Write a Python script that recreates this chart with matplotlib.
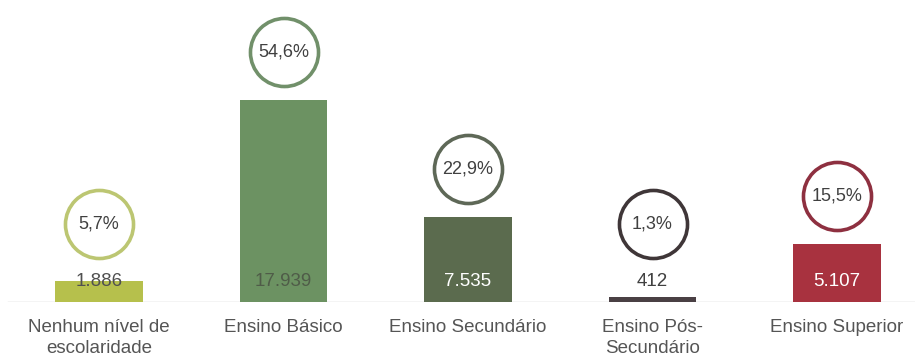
import matplotlib.pyplot as plt
from matplotlib.transforms import ScaledTranslation

plt.rcParams['font.family'] = ['Liberation Sans', 'DejaVu Sans']

categories = ['Nenhum nível de\nescolaridade', 'Ensino Básico', 'Ensino Secundário',
              'Ensino Pós-\nSecundário', 'Ensino Superior']
values = [1886, 17939, 7535, 412, 5107]
bar_colors = ['#b6c04c', '#6c9262', '#5b6b4e', '#4a4044', '#a8323f']
ring_colors = ['#bcc672', '#71906a', '#5e6857', '#3f3638', '#8e3040']
value_colors = ['#505050', '#4f5c48', '#ffffff', '#404040', '#ffffff']

total = sum(values)
shares = [v / total * 100 for v in values]

fig = plt.figure(figsize=(9.15, 3.58), dpi=100)
ax = fig.add_axes([0, 56 / 358, 1, 302 / 358])
ymax = 17939 * 302 / 202
ax.set_ylim(0, ymax)
ax.set_xlim(-99 / 184.5, (915 - 99) / 184.5)
ax.axis('off')

x = range(len(values))
ax.bar(x, values, width=0.475, color=bar_colors, zorder=2)
ax.axhline(0, xmin=8 / 915, xmax=1, color='#c8c8c8', lw=1, zorder=1)

px = 1 / 100
label_y_px = 20   # value labels sit at fixed height above the baseline
for i, v in enumerate(values):
    off = ScaledTranslation(0, label_y_px * px, fig.dpi_scale_trans)
    ax.text(i, 0, f"{v:,}".replace(',', '.'), transform=ax.transData + off,
            ha='center', va='center', fontsize=13.5, color=value_colors[i], zorder=3)

    # ring sits above the bar top or above the value label, whichever is higher
    top_px = max(v * 202 / 17939, label_y_px + 10)
    dy = (top_px + 12 + 36) * px
    roff = ax.transData + ScaledTranslation(0, dy, fig.dpi_scale_trans)
    ax.plot([i], [0], 'o', ms=49, mfc='white', mec=ring_colors[i], mew=2.6,
            transform=roff, zorder=3)
    ax.text(i, 0, f"{shares[i]:.1f}%".replace('.', ','), transform=roff,
            ha='center', va='center', fontsize=13, color='#404040', zorder=4)

    loff = ScaledTranslation(0, -17 * px, fig.dpi_scale_trans)
    ax.text(i, 0, categories[i], transform=ax.transData + loff, ha='center', va='top',
            fontsize=13.5, color='#555555', linespacing=1.3)

fig.savefig('out.png', dpi=100)
